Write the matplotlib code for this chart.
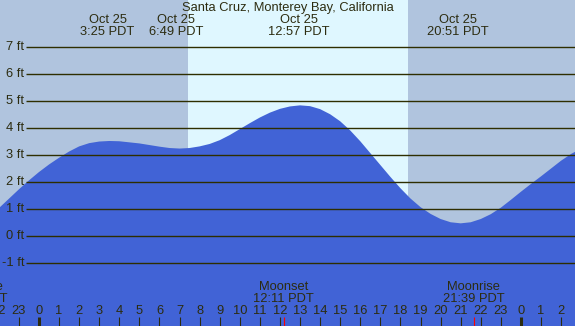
import numpy as np
import matplotlib
matplotlib.use("Agg")
import matplotlib.pyplot as plt
import matplotlib.transforms as mtransforms

plt.rcParams['font.family'] = ['Liberation Sans', 'DejaVu Sans']

title = "Santa Cruz, Monterey Bay, California"

# tide height (ft), every half hour from 22:00 the day before
tide_hours = [-2, -1.5, -1, -0.5, 0, 0.5, 1, 1.5, 2, 2.5, 3, 3.5, 4, 4.5, 5, 5.5,
              6, 6.5, 7, 7.5, 8, 8.5, 9, 9.5, 10, 10.5, 11, 11.5, 12, 12.5, 13,
              13.5, 14, 14.5, 15, 15.5, 16, 16.5, 17, 17.5, 18, 18.5, 19, 19.5,
              20, 20.5, 21, 21.5, 22, 22.5, 23, 23.5, 24, 24.5, 25, 25.5, 26,
              26.5, 27]
tide_ft = [1.04, 1.39, 1.74, 2.07, 2.38, 2.66, 2.91, 3.14, 3.33, 3.45, 3.51, 3.53,
           3.52, 3.48, 3.44, 3.38, 3.32, 3.27, 3.25, 3.27, 3.33, 3.42, 3.56, 3.75,
           3.97, 4.19, 4.40, 4.58, 4.72, 4.81, 4.85, 4.82, 4.71, 4.52, 4.26, 3.92,
           3.52, 3.08, 2.64, 2.20, 1.78, 1.40, 1.08, 0.83, 0.64, 0.52, 0.48, 0.52,
           0.64, 0.82, 1.06, 1.35, 1.65, 1.94, 2.22, 2.51, 2.80, 3.05, 3.25]

tide_events = ["3:25", "6:49", "12:57", "20:51"]
sunrise, sunset = "7:25", "18:22"
moon_labels = ["Moonrise", "Moonset", "Moonrise"]
moon_times = ["-3:07", "12:11", "21:39"]   # first one is the evening before
moon_texts = ["20:53", "12:11", "21:39"]
feet = [-1, 0, 1, 2, 3, 4, 5, 6, 7]
hour_ticks = list(range(-2, 27))


def to_hours(s):
    neg = s.startswith("-")
    hh, mm = s.lstrip("-").split(":")
    v = int(hh) + int(mm) / 60
    return -v if neg else v


# pixel geometry of the original picture
W, H = 575, 326
px_per_h, x0_px = 20.08, 39.0
px_per_ft, y0_px = 27.0, 236.3


def hx(px):
    return (px - x0_px) / px_per_h


def fy(py):
    return 1 - py / H


night = '#B0C4DE'
day = '#DFF7FF'
water = '#4163D6'
ink = '#2C2C10'
gridc = '#2E2E00'
fs = 9.3

fig = plt.figure(figsize=(W / 100, H / 100), dpi=100)
ax = fig.add_axes([0, 0, 1, 1])
ax.set_xlim(hx(0), hx(W))
ax.set_ylim((y0_px - H) / px_per_ft, y0_px / px_per_ft)
ax.axis('off')
fig.patch.set_facecolor(night)
trans = mtransforms.blended_transform_factory(ax.transData, ax.transAxes)

ax.axvspan(hx(0), hx(W), color=night, zorder=0)
ax.axvspan(to_hours(sunrise), to_hours(sunset), color=day, zorder=1, lw=0)

ax.fill_between(tide_hours, tide_ft, -10, color=water, lw=0, zorder=2)

ax.hlines(feet, hx(26), hx(W), color=gridc, lw=1.0, zorder=3)
for f in feet:
    ax.text(hx(24.5), f, f"{f} ft", ha='right', va='center', fontsize=fs,
            color=ink, zorder=4)

ax.text(0.5, fy(8), title, transform=ax.transAxes, ha='center', va='center',
        fontsize=fs, color=ink)
for t in tide_events:
    ax.text(to_hours(t), fy(20), "Oct 25", ha='center', va='center',
            fontsize=fs, color=ink, transform=trans)
    ax.text(to_hours(t), fy(32), f"{t} PDT", ha='center', va='center',
            fontsize=fs, color=ink, transform=trans)

for h in hour_ticks:
    ax.text(h, fy(311.5), str(h % 24), ha='center', va='center', fontsize=fs,
            color=ink, transform=trans)
    lw = 2.2 if h % 24 == 0 else 0.8
    ax.vlines(h, 0, fy(316.5), color=ink, lw=lw, transform=trans, zorder=5)

for lab, t, txt in zip(moon_labels, moon_times, moon_texts):
    h = to_hours(t)
    ax.text(h, fy(287.5), lab, ha='center', va='center', fontsize=fs,
            color=ink, transform=trans)
    ax.text(h, fy(299.5), f"{txt} PDT", ha='center', va='center', fontsize=fs,
            color=ink, transform=trans)
    ax.vlines(h, 0, fy(316.5), color='red', lw=0.8, transform=trans, zorder=6)

fig.savefig('out.png', dpi=100, facecolor=night)
